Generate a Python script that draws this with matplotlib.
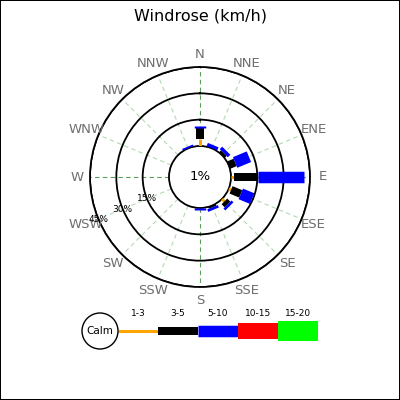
import numpy as np
import matplotlib
matplotlib.use("Agg")
import matplotlib.pyplot as plt
from matplotlib.patches import Circle

# ---- data ----
directions = ["N", "NNE", "NE", "ENE", "E", "ESE", "SE", "SSE",
              "S", "SSW", "SW", "WSW", "W", "WNW", "NW", "NNW"]
speed_ranges = ["1-3", "3-5", "5-10", "10-15", "15-20"]
range_colors = ["orange", "black", "blue", "red", "#00ff00"]
range_widths_px = [3, 8, 11.5, 16, 20]
v_1_3 = [4, 0, 0, 0, 1.5, 1.5, 2, 0, 0, 0, 0, 0, 0, 0, 0, 0]
v_3_5 = [6, 0, 1.5, 4, 14, 6, 2.5, 1, 0, 0, 0, 0, 0, 0, 0, 0]
v_5_10 = [1.5, 2, 2, 8.5, 26, 7, 1.5, 1.5, 1, 0, 0, 0, 0, 0, 0, 1]
calm_pct = 1
ring_ticks = [15, 30, 45]
ring_labels = ["15%", "30%", "45%"]

series = [v_1_3, v_3_5, v_5_10]

DPI = 100
fig = plt.figure(figsize=(4, 4), dpi=DPI, facecolor="white",
                 edgecolor="black", linewidth=1.2)

# polar rose: centre (200,177) px, outer radius 110 px
R_OUT = 110
cx, cy = 200, 177
ax = fig.add_axes([(cx - R_OUT) / 400, (400 - cy - R_OUT) / 400,
                   2 * R_OUT / 400, 2 * R_OUT / 400], projection="polar")
ax.set_theta_zero_location("N")
ax.set_theta_direction(-1)
rmax = 45
calm_px = 31
rorig = -calm_px * rmax / (R_OUT - calm_px)
ax.set_ylim(0, rmax)
ax.set_rorigin(rorig)
ax.set_facecolor("none")

ax.set_yticks(ring_ticks)
ax.set_yticklabels([])
ax.set_xticks([])
ax.yaxis.grid(True, color="black", linewidth=1.3, linestyle="-")
ax.xaxis.grid(False)
for sp in ax.spines.values():
    sp.set_color("black")
    sp.set_linewidth(1.3)

angles = np.deg2rad(np.arange(16) * 22.5)

# radial dashed grid lines
for i, th in enumerate(angles):
    main = (i % 4 == 0)
    ax.plot([th, th], [0, rmax], color="#5aa05a" if main else "#b3d9b3",
            linewidth=0.8, linestyle=(0, (4, 3)), zorder=1)

# bars
px2pt = 72.0 / DPI
for k, vals in enumerate(series):
    base = np.sum(series[:k], axis=0) if k > 0 else np.zeros(16)
    for th, b, v in zip(angles, base, vals):
        if v <= 0:
            continue
        ax.plot([th, th], [b, b + v], color=range_colors[k],
                linewidth=range_widths_px[k] * px2pt,
                solid_capstyle="butt", zorder=3)

# direction labels
label_r = 123 / R_OUT * (rmax - rorig) + rorig
for th, d in zip(angles, directions):
    ax.text(th, label_r, d, ha="center", va="center", fontsize=9.5,
            color="#6e6e6e", clip_on=False)

# ring labels along WSW
wsw = angles[directions.index("WSW")]
for r, lab in zip(ring_ticks, ring_labels):
    ax.text(wsw, r, lab, ha="center", va="center", fontsize=6.5,
            color="black", zorder=5)

ax.text(0, rorig, f"{calm_pct}%", ha="center", va="center", fontsize=9.5,
        color="black", zorder=5)

# title
fig.text(0.5, 1 - 16 / 400, "Windrose (km/h)", ha="center", va="center",
         fontsize=11.5)

# legend overlay (pixel coordinates)
lax = fig.add_axes([0, 0, 1, 1])
lax.set_xlim(0, 400)
lax.set_ylim(400, 0)
lax.set_axis_off()
lax.set_facecolor("none")
ly = 331
lax.add_patch(Circle((100, ly), 18, facecolor="white", edgecolor="black",
                     linewidth=1.0, zorder=3))
lax.text(100, ly, "Calm", ha="center", va="center", fontsize=7.5, zorder=4)
x0 = 118
seg = 40
for k, (lab, col, w) in enumerate(zip(speed_ranges, range_colors,
                                      range_widths_px)):
    xa = x0 + k * seg
    lax.plot([xa, xa + seg], [ly, ly], color=col, linewidth=w * px2pt,
             solid_capstyle="butt", zorder=2)
    lax.text(xa + seg / 2, 314, lab, ha="center", va="center",
             fontsize=6.5)

fig.savefig("out.png", dpi=DPI)
